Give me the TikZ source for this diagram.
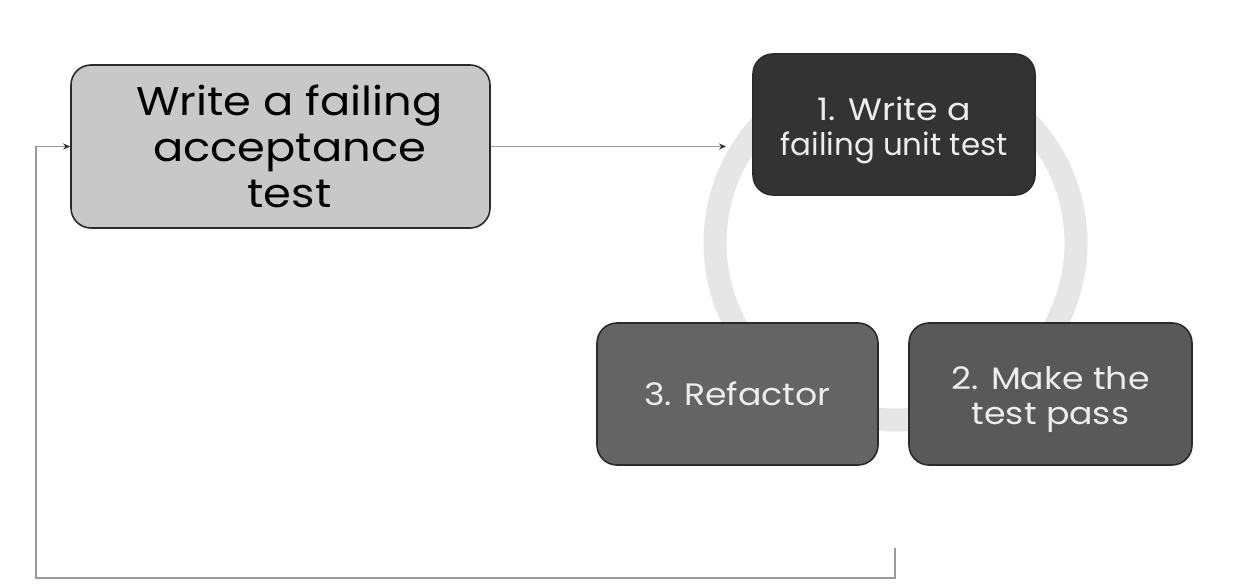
\documentclass[tikz,border=0pt]{standalone}
\usepackage{fontspec}
\setmainfont[FakeStretch=1.12]{Poppins}
\usetikzlibrary{arrows.meta}
\definecolor{ringgray}{HTML}{E6E6E6}
\definecolor{lightbox}{HTML}{C8C8C8}
\definecolor{darkbox}{HTML}{333333}
\definecolor{midbox}{HTML}{646464}
\definecolor{midboxb}{HTML}{595959}
\definecolor{edge}{HTML}{2A2A2A}
\definecolor{linegray}{HTML}{9A9A9A}
\tikzset{
  x=1pt, y=-1pt,
  card/.style={draw=edge, line width=1.6pt, rounded corners=20pt, inner sep=0pt, align=center},
  lighttext/.style={text=white!93!black},
  bigtext/.style={font={\fontsize{40}{46}\selectfont}},
  smalltext/.style={font={\fontsize{31}{35}\selectfont}},
  conn/.style={draw=linegray, line width=1.7pt, -{Stealth[length=7pt,width=6pt,color=darkbox!90!black]}},
}
\begin{document}
\begin{tikzpicture}
\useasboundingbox (0,0) rectangle (1248,586);
% cycle ring
\draw[ringgray, line width=23pt] (895.5,243) ellipse [x radius=180.5, y radius=177];
% boxes
\node[card, fill=lightbox, bigtext, minimum width=419pt, minimum height=163pt] (acc) at (280.5,146.5)
  {\hspace*{18pt}Write a failing\\\hspace*{18pt}acceptance\\\hspace*{18pt}test};
\node[card, fill=darkbox, lighttext, smalltext, minimum width=282pt, minimum height=141pt] (s1) at (894,124.5)
  {\rule{0pt}{36pt}1. Write a\\\scalebox{0.89}[1]{failing unit test}};
\node[card, fill=midboxb, lighttext, smalltext, minimum width=283pt, minimum height=142pt] (s2) at (1050.5,394)
  {\rule{0pt}{34pt}2. Make the\\test pass};
\node[card, fill=midbox, lighttext, smalltext, minimum width=281pt, minimum height=142pt] (s3) at (737.5,394)
  {3. Refactor};
% connectors
\coordinate (cyc) at (726,146.5);
\coordinate (stub) at (895,548);
\coordinate (br) at (895,578);
\coordinate (bl) at (36,578);
\draw[conn] (acc.east) -- (cyc);
\draw[conn] (stub) -- (br) -- (bl) |- (acc.west);
\end{tikzpicture}
\end{document}
